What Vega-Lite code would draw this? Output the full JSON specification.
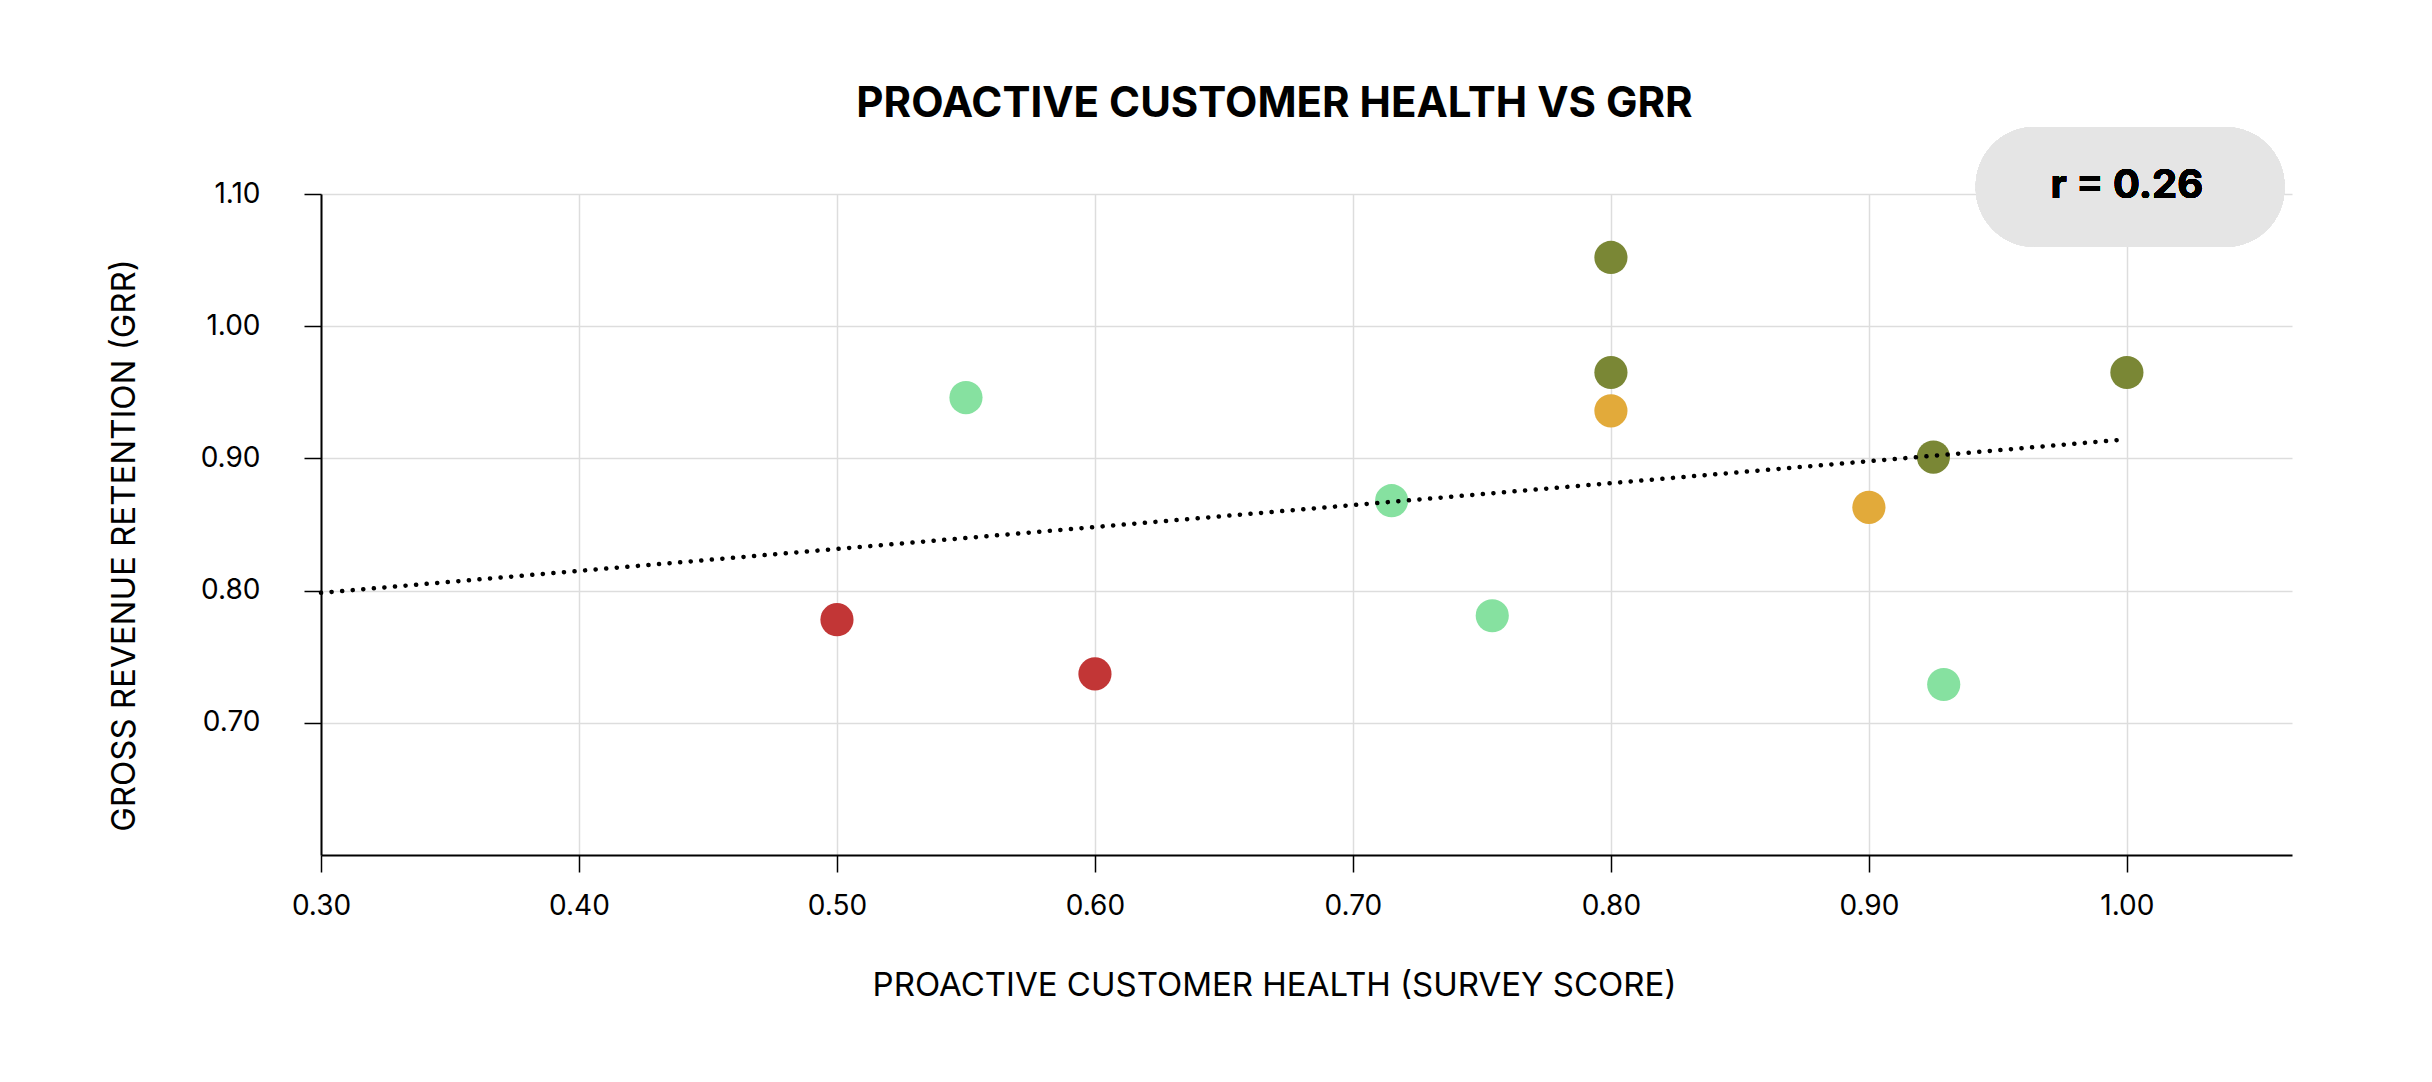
{
  "$schema": "https://vega.github.io/schema/vega-lite/v6.json",
  "width": 1971,
  "height": 661,
  "autosize": {"type": "none"},
  "padding": {"left": 321, "top": 194, "right": 140, "bottom": 227},
  "background": "white",
  "config": {
    "view": {"stroke": null},
    "font": "Inter",
    "axis": {
      "domainColor": "#000000",
      "domainWidth": 2,
      "tickColor": "#000000",
      "tickWidth": 1.5,
      "tickSize": 17,
      "gridColor": "#dddddd",
      "gridWidth": 1.5,
      "labelColor": "#000000",
      "labelFontSize": 28,
      "labelFont": "Inter",
      "labelFlush": false,
      "labelOverlap": false,
      "titleColor": "#000000",
      "titleFont": "Inter",
      "titleFontSize": 33,
      "titleFontWeight": "normal"
    }
  },
  "title": {
    "text": "PROACTIVE CUSTOMER HEALTH VS GRR",
    "fontSize": 42,
    "fontWeight": "bold",
    "font": "Inter",
    "color": "#000000",
    "anchor": "middle",
    "frame": "group",
    "baseline": "middle",
    "dx": -32,
    "dy": 49,
    "offset": 30
  },
  "data": {
    "values": [
      {"health": 0.50, "grr": 0.778, "tier": "at risk"},
      {"health": 0.60, "grr": 0.737, "tier": "at risk"},
      {"health": 0.55, "grr": 0.946, "tier": "emerging"},
      {"health": 0.715, "grr": 0.868, "tier": "emerging"},
      {"health": 0.754, "grr": 0.781, "tier": "emerging"},
      {"health": 0.929, "grr": 0.729, "tier": "emerging"},
      {"health": 0.80, "grr": 1.052, "tier": "leading"},
      {"health": 0.80, "grr": 0.965, "tier": "leading"},
      {"health": 0.80, "grr": 0.936, "tier": "developing"},
      {"health": 0.90, "grr": 0.863, "tier": "developing"},
      {"health": 0.925, "grr": 0.901, "tier": "leading"},
      {"health": 1.00, "grr": 0.965, "tier": "leading"}
    ]
  },
  "layer": [
    {
      "mark": {"type": "circle", "size": 1100, "opacity": 1},
      "encoding": {
        "x": {
          "field": "health",
          "type": "quantitative",
          "scale": {"domain": [0.3, 1.064], "nice": false, "zero": false},
          "axis": {
            "values": [0.3, 0.4, 0.5, 0.6, 0.7, 0.8, 0.9, 1.0],
            "format": ".2f",
            "grid": true,
            "labelPadding": 20,
            "title": "PROACTIVE CUSTOMER HEALTH (SURVEY SCORE)",
            "titleX": 953,
            "titleY": 130,
            "titleAlign": "center",
            "titleBaseline": "middle"
          }
        },
        "y": {
          "field": "grr",
          "type": "quantitative",
          "scale": {"domain": [0.6, 1.1], "nice": false, "zero": false},
          "axis": {
            "values": [0.7, 0.8, 0.9, 1.0, 1.1],
            "format": ".2f",
            "grid": true,
            "labelPadding": 44,
            "title": "GROSS REVENUE RETENTION (GRR)",
            "titleX": -197,
            "titleY": 351,
            "titleAngle": -90,
            "titleAlign": "center",
            "titleBaseline": "middle"
          }
        },
        "color": {
          "field": "tier",
          "type": "nominal",
          "scale": {
            "domain": ["at risk", "emerging", "developing", "leading"],
            "range": ["#c23636", "#86e1a0", "#e2aa3a", "#7a8735"]
          },
          "legend": null
        }
      }
    },
    {
      "transform": [
        {"regression": "grr", "on": "health", "extent": [0.3, 1.0]}
      ],
      "mark": {
        "type": "line",
        "color": "#000000",
        "strokeWidth": 4.5,
        "strokeCap": "round",
        "strokeDash": [0.1, 10.5]
      },
      "encoding": {
        "x": {"field": "health", "type": "quantitative"},
        "y": {"field": "grr", "type": "quantitative"}
      }
    },
    {
      "mark": {"type": "rect", "color": "#e5e5e5", "cornerRadius": 59},
      "encoding": {
        "x": {"datum": 0.9414},
        "x2": {"datum": 1.0611},
        "y": {"datum": 1.1506},
        "y2": {"datum": 1.06}
      }
    },
    {
      "mark": {
        "type": "text",
        "text": "r = 0.26",
        "font": "Inter",
        "fontSize": 40,
        "fontWeight": "bold",
        "color": "#000000",
        "align": "center",
        "baseline": "middle"
      },
      "encoding": {
        "x": {"datum": 1.0},
        "y": {"datum": 1.106}
      }
    }
  ]
}
